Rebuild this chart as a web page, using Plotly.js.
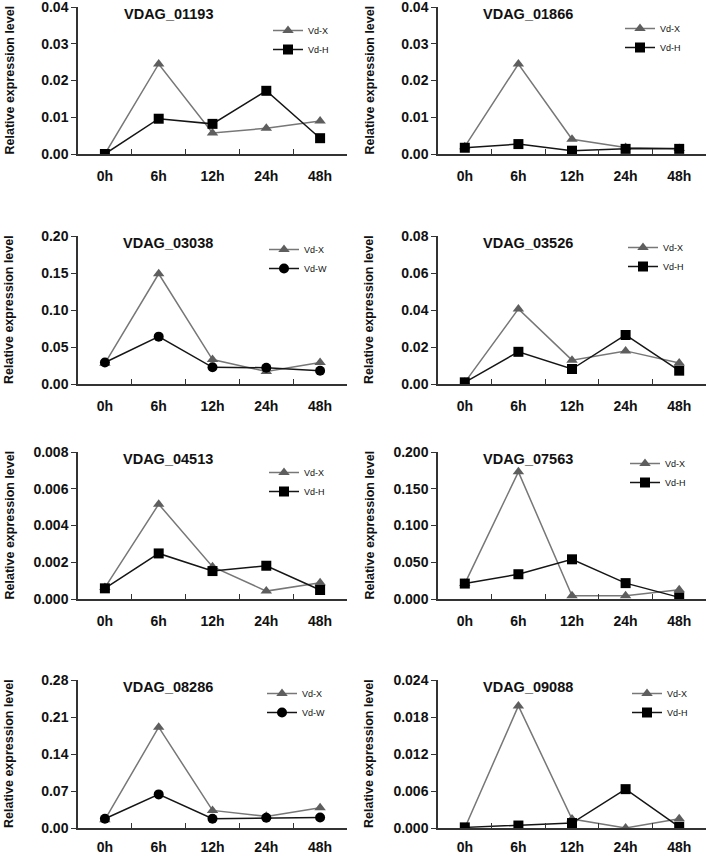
<!DOCTYPE html>
<html>
<head>
<meta charset="utf-8">
<script src="https://cdn.plot.ly/plotly-3.0.1.min.js"></script>
<style>
  html, body { margin: 0; padding: 0; background: #fff; }
  #chart { width: 709px; height: 856px; }
</style>
</head>
<body>
<div id="chart"></div>
<script>
var CHART = document.getElementById("chart");

// time points
var hours = ["0h", "6h", "12h", "24h", "48h"];

// gene names, one per panel
var genes = ["VDAG_01193", "VDAG_01866", "VDAG_03038", "VDAG_03526",
             "VDAG_04513", "VDAG_07563", "VDAG_08286", "VDAG_09088"];

// name of the second series in each panel
var secondName = ["Vd-H", "Vd-H", "Vd-W", "Vd-H", "Vd-H", "Vd-H", "Vd-W", "Vd-H"];

// Vd-X values per panel
var vdX = [
    [0.0000, 0.0245, 0.0057, 0.0070, 0.0090],
    [0.0020, 0.0245, 0.0040, 0.0018, 0.0015],
    [0.028, 0.149, 0.033, 0.017, 0.029],
    [0.0009, 0.0406, 0.0129, 0.0179, 0.0113],
    [0.00062, 0.00516, 0.00176, 0.00043, 0.00089],
    [0.021, 0.173, 0.0045, 0.0045, 0.0126],
    [0.0157, 0.1907, 0.0333, 0.022, 0.0384],
    [0.0000, 0.0198, 0.00145, 0.0000, 0.0015]
];

// Vd-H / Vd-W values per panel
var vdOther = [
    [0.0000, 0.0096, 0.0082, 0.0172, 0.0043],
    [0.0017, 0.0027, 0.0009, 0.0014, 0.0014],
    [0.029, 0.064, 0.0226, 0.022, 0.018],
    [0.0009, 0.0174, 0.0081, 0.0265, 0.0072],
    [0.00058, 0.00248, 0.00152, 0.00181, 0.00049],
    [0.021, 0.0337, 0.054, 0.0216, 0.0022],
    [0.0176, 0.0636, 0.0176, 0.0195, 0.020],
    [0.0001, 0.0004, 0.0008, 0.0063, 0.0002]
];

// y axis maxima, steps and formats
var yMax = [0.04, 0.04, 0.20, 0.08, 0.008, 0.200, 0.28, 0.024];
var yStep = [0.01, 0.01, 0.05, 0.02, 0.002, 0.05, 0.07, 0.006];
var yFormat = [".2f", ".2f", ".2f", ".2f", ".3f", ".3f", ".2f", ".3f"];

var W = 709, H = 856;
// plot boxes in pixels: [left, right], [top, bottom]
var colPx = [[78, 347], [438, 706]];
var rowPx = [[7, 154], [236, 384], [452, 599], [680, 828]];
// legend placement relative to the plot box (px), per panel
var legLeft = [190, 182, 186, 185, 186, 187, 184, 189];
var legTop = [9, 7, -1, -3, 6, -3, -1, -1];

var font = "Liberation Sans, Arial, sans-serif";
var data = [];
var layout = {
    width: W, height: H,
    margin: { l: 0, r: 0, t: 0, b: 0 },
    paper_bgcolor: "#fff",
    plot_bgcolor: "#fff",
    showlegend: true,
    font: { family: font, color: "#111" },
    annotations: []
};

for (var i = 0; i < 8; i++) {
    var n = i + 1;
    var sx = n === 1 ? "" : String(n);
    var col = colPx[i % 2], row = rowPx[Math.floor(i / 2)];
    var legName = n === 1 ? "legend" : "legend" + n;

    data.push({
        x: hours, y: vdX[i], name: "Vd-X",
        xaxis: "x" + sx, yaxis: "y" + sx, legend: legName,
        mode: "lines+markers", type: "scatter",
        line: { color: "#777", width: 1.5 },
        marker: { symbol: "triangle-up", size: 10, color: "#5e5e5e" }
    });
    data.push({
        x: hours, y: vdOther[i], name: secondName[i],
        xaxis: "x" + sx, yaxis: "y" + sx, legend: legName,
        mode: "lines+markers", type: "scatter",
        line: { color: "#151515", width: 1.5 },
        marker: {
            symbol: secondName[i] === "Vd-W" ? "circle" : "square",
            size: 10, color: "#000"
        }
    });

    layout["xaxis" + sx] = {
        domain: [col[0] / W, col[1] / W],
        anchor: "y" + sx,
        type: "category",
        range: [-0.5, 4.5],
        tickson: "boundaries",
        ticks: "inside", ticklen: 5, tickcolor: "#333",
        showline: true, linecolor: "#333", linewidth: 1.5,
        showgrid: false, zeroline: false,
        ticklabelstandoff: i >= 6 ? 5 : 8,
        ticklabeloverflow: "allow",
        tickfont: { family: font, size: 14, weight: "bold", color: "#111" }
    };
    layout["yaxis" + sx] = {
        domain: [1 - row[1] / H, 1 - row[0] / H],
        anchor: "x" + sx,
        range: [0, yMax[i] * 1.0001],
        dtick: yStep[i], tick0: 0,
        tickformat: yFormat[i],
        ticks: "outside", ticklen: 5, tickcolor: "#333",
        showline: true, linecolor: "#333", linewidth: 1.5,
        showgrid: false, zeroline: false,
        ticklabeloverflow: "allow",
        tickfont: { family: font, size: 14, weight: "bold", color: "#111" }
    };
    layout[legName] = {
        x: (col[0] + legLeft[i]) / W, xanchor: "left",
        y: 1 - (row[0] + legTop[i]) / H, yanchor: "top",
        bgcolor: "rgba(0,0,0,0)",
        font: { family: font, size: 9, color: "#111" },
        itemwidth: 30, tracegroupgap: 0
    };

    layout.annotations.push({
        text: genes[i], showarrow: false,
        xref: "x" + sx + " domain", yref: "y" + sx + " domain",
        x: 0.335, y: 1, yshift: -7, xanchor: "center", yanchor: "middle",
        font: { family: font, size: 14.5, weight: "bold", color: "#111" }
    });
    layout.annotations.push({
        text: "Relative expression level", showarrow: false,
        xref: "x" + sx + " domain", yref: "y" + sx + " domain",
        x: 0, xshift: -69, y: 0.5, textangle: -90,
        xanchor: "center", yanchor: "middle",
        font: { family: font, size: 12.5, weight: "bold", color: "#111" }
    });
}

Plotly.newPlot(CHART, data, layout, { displayModeBar: false, responsive: false });
</script>
</body>
</html>
